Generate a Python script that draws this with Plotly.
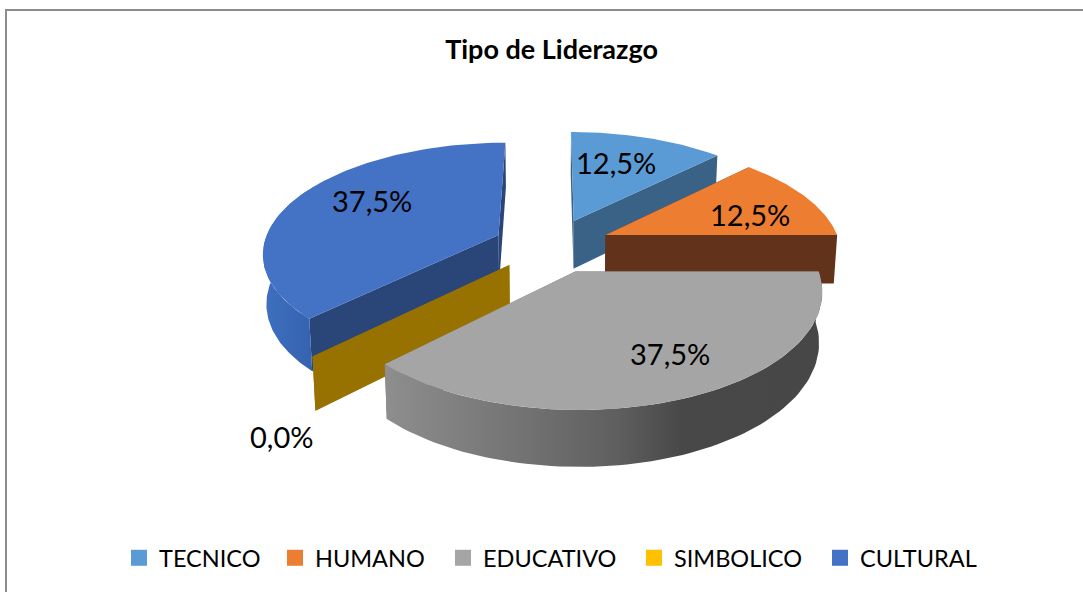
import math
import numpy as np
import plotly.graph_objects as go

# ---- data ----
CATEGORIES = ["TECNICO", "HUMANO", "EDUCATIVO", "SIMBOLICO", "CULTURAL"]
VALUES = [12.5, 12.5, 37.5, 0.0, 37.5]
TITLE = "Tipo de Liderazgo"

# ---- style ----
TOP = ["#5B9BD5", "#ED7D31", "#A5A5A5", "#FFC000", "#4472C4"]
CUT = ["#3A6287", "#62331A", "#6E6E6E", "#987200", "#2A4679"]
RIM = [
    [[0, "#3A6287"], [1, "#3A6287"]],
    [[0, "#6B3A16"], [1, "#6B3A16"]],
    [[0, "#8E8E8E"], [0.3, "#747474"], [0.53, "#5F5F5F"], [0.68, "#484848"], [1, "#474747"]],
    [[0, "#987200"], [1, "#987200"]],
    [[0, "#3F6FC0"], [1, "#3461AE"]],
]
LABEL_POS = [(616, 162), (750, 214), (670, 353), (281, 436), (372, 200)]
LEGEND_X = [119, 275, 443, 634, 820]
DRAW_ORDER = [0, 1, 4, 3, 2]
FONT = "Lato"

# ---- projected pie geometry ----
CX, R, K, D, YH = 552.0, 235.0, 0.15, 727.0, -481.7
EXPLODE, WALL_BASE, WALL_SCALE, TAPER = 0.25, 14.0, 35.0, 0.012


def project(x, y, bottom=False):
    s = 1.0 / (1.0 + K * y)
    px = CX + x * R * s
    py = YH + D * s
    if bottom:
        px = CX + (px - CX) * (1 - TAPER)
        py = py + WALL_BASE + WALL_SCALE * s
    return px, py


def point(centre, angle, radius, bottom=False):
    a = math.radians(angle)
    return project(centre[0] + radius * math.sin(a), centre[1] + radius * math.cos(a), bottom)


def wedge(centre, a0, a1):
    pts = [point(centre, 0, 0)]
    for a in np.linspace(a0, a1, 80):
        pts.append(point(centre, a, 1))
    pts.append(pts[0])
    return pts


def radial(centre, a):
    return [point(centre, 0, 0), point(centre, a, 1), point(centre, a, 1, True),
            point(centre, 0, 0, True), point(centre, 0, 0)]


def rim(centre, a0, a1):
    angles = np.linspace(a0, a1, 80)
    up = [point(centre, a, 1) for a in angles]
    low = [point(centre, a, 1, True) for a in angles[::-1]]
    return up + low + [up[0]]


fig = go.Figure()


def face(pts, color=None, gradient=None):
    xs, ys = zip(*pts)
    kw = {"fillgradient": dict(type="horizontal", colorscale=gradient)} if gradient else {"fillcolor": color}
    fig.add_trace(go.Scatter(x=xs, y=ys, mode="lines", fill="toself", line=dict(width=0),
                             hoverinfo="skip", showlegend=False, **kw))


total = sum(VALUES)
spans = []
start = 0.0
for v in VALUES:
    spans.append((start, start + v / total * 360.0))
    start = spans[-1][1]

for i in DRAW_ORDER:
    a0, a1 = spans[i]
    mid = math.radians((a0 + a1) / 2)
    c = (EXPLODE * math.sin(mid), EXPLODE * math.cos(mid))
    face(radial(c, a0), CUT[i])
    face(radial(c, a1), CUT[i])
    lo, hi = max(a0, 90), min(a1, 300)
    if hi > lo:
        face(rim(c, lo, hi), gradient=RIM[i])
    if a1 > a0:
        face(wedge(c, a0, a1), TOP[i])

# legend entries: one positioned legend per category
legend_layout = {}
for n, (name, col, lx) in enumerate(zip(CATEGORIES, TOP, LEGEND_X)):
    key = "legend" if n == 0 else f"legend{n + 1}"
    fig.add_trace(go.Scatter(x=[None], y=[None], mode="markers", name=name, legend=key,
                             marker=dict(symbol="square", size=16, color=col)))
    legend_layout[key] = dict(x=lx / 1083, xanchor="left", y=1 - 558 / 592, yanchor="middle",
                              font=dict(family=FONT, size=23.5, color="#000000"), itemwidth=30,
                              bgcolor="rgba(0,0,0,0)")

# data labels
for v, (lx, ly) in zip(VALUES, LABEL_POS):
    fig.add_annotation(x=lx, y=ly, text=f"{v:.1f}%".replace(".", ","), showarrow=False,
                       font=dict(family=FONT, size=29, color="#000000"))

fig.add_shape(type="rect", x0=6, y0=10, x1=1200, y1=700, line=dict(color="#8C8C8C", width=2),
              fillcolor="rgba(0,0,0,0)", layer="below")

fig.update_layout(
    width=1083, height=592, autosize=False,
    margin=dict(l=0, r=0, t=0, b=0),
    paper_bgcolor="#FFFFFF", plot_bgcolor="#FFFFFF",
    title=dict(text=f"<b>{TITLE}</b>", x=0.5093, xanchor="center", y=0.917, yanchor="middle",
               font=dict(family=FONT, size=27, color="#000000")),
    xaxis=dict(range=[0, 1083], visible=False, fixedrange=True),
    yaxis=dict(range=[592, 0], visible=False, fixedrange=True),
    **legend_layout,
)
fig.write_html("out.html", config={"displayModeBar": False},
               post_script="document.body.style.margin='0';document.body.style.overflow='hidden';")
